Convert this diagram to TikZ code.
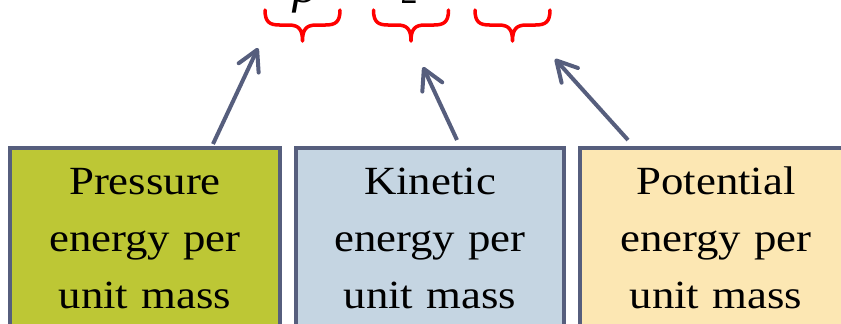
\documentclass[tikz,border=0pt]{standalone}
\usepackage{fontspec}
\newfontfamily\boxfont[FakeStretch=1.12]{Liberation Serif}
\newfontfamily\eqfont{Liberation Serif}
\usetikzlibrary{arrows.meta}
\definecolor{olivebox}{HTML}{BDC735}
\definecolor{bluebox}{HTML}{C5D5E2}
\definecolor{creambox}{HTML}{FCE7B3}
\definecolor{slate}{HTML}{565E7D}
\definecolor{bracered}{HTML}{FF0000}
\tikzset{
  termbox/.style={draw=slate, line width=4pt, anchor=north, align=center,
    inner xsep=10pt, inner ysep=7pt,
    font=\boxfont\fontsize{40}{57}\selectfont},
  pointer/.style={draw=slate, line width=4pt,
    -{Straight Barb[length=20pt,width=22pt,line cap=round,line join=round]}},
  bracepath/.style={draw=bracered, line width=3.5pt, line cap=round, line join=round},
}
\begin{document}
\begin{tikzpicture}[x=1pt,y=-1pt]
\useasboundingbox (0,0) rectangle (841,324);
\clip (0,0) rectangle (841,324);
% formula fragments (cut off at the top)
\node[anchor=south, inner sep=0pt, font=\eqfont\itshape\fontsize{50}{54}\selectfont] (rho) at (305,13) {ρ};
\node[anchor=south, inner sep=0pt, font=\eqfont\fontsize{34}{38}\selectfont] (two) at (409,3.5) {2};
% braces
\foreach \c in {302.5,411,512.5}{
  \draw[bracepath] (\c-37.5,10) .. controls +(0,12) and +(-10,0) .. (\c-23,25)
    -- (\c-14,25) .. controls +(10,0) and +(0,-12) .. (\c,41)
    .. controls +(0,-12) and +(-10,0) .. (\c+14,25)
    -- (\c+23,25) .. controls +(10,0) and +(0,12) .. (\c+37.5,10);
}
% boxes
\node[termbox, fill=olivebox, text width=250pt] (b1) at (145,146)
  {\strut Pressure\\energy per\\unit mass\strut};
\node[termbox, fill=bluebox, text width=248pt] (b2) at (430,146)
  {\strut Kinetic\\energy per\\unit mass\strut};
\node[termbox, fill=creambox, text width=252pt] (b3) at (716,146)
  {\strut Potential\\energy per\\unit mass\strut};
% arrows
\coordinate (s1) at (213,144);
\coordinate (t1) at (258,48);
\coordinate (s2) at (457,140);
\coordinate (t2) at (423,67);
\coordinate (s3) at (628,140);
\coordinate (t3) at (555,59);
\draw[pointer] (s1) -- (t1);
\draw[pointer] (s2) -- (t2);
\draw[pointer] (s3) -- (t3);
\end{tikzpicture}
\end{document}
